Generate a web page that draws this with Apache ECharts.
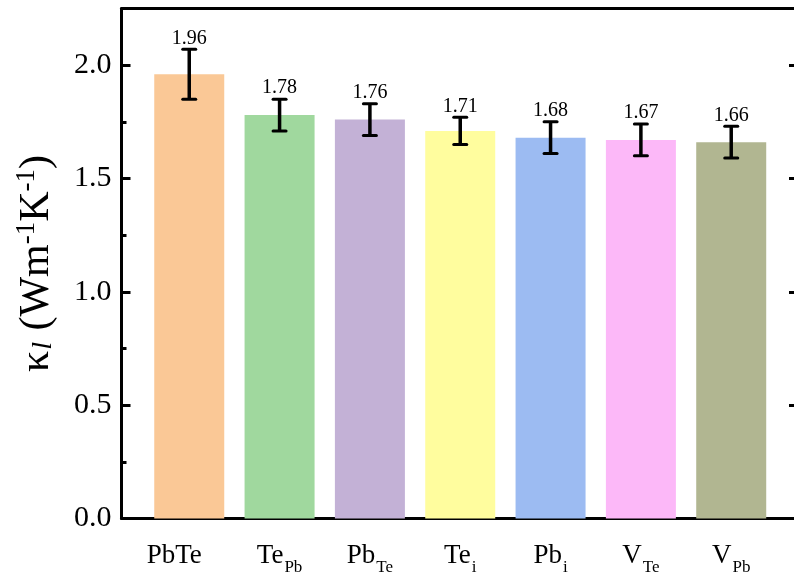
<!DOCTYPE html>
<html>
<head>
<meta charset="utf-8">
<script src="https://cdn.jsdelivr.net/npm/echarts@6/dist/echarts.min.js"></script>
<style>
html,body{margin:0;padding:0;background:#fff;}
#chart{width:794px;height:586px;}
</style>
</head>
<body>
<div id="chart"></div>
<script>
// Data
const labelMain = ['PbTe', 'Te', 'Pb', 'Te', 'Pb', 'V', 'V'];
const labelSub  = ['', 'Pb', 'Te', 'i', 'i', 'Te', 'Pb'];
const values = [1.96, 1.78, 1.76, 1.71, 1.68, 1.67, 1.66];
const errors = [0.11, 0.07, 0.07, 0.06, 0.07, 0.07, 0.07];
const barColors = ['#FAC896', '#A0D89E', '#C3B1D6', '#FFFD9E', '#9CBBF2', '#FCB8F8', '#B1B691'];
const yMajorTicks = [0, 0.5, 1.0, 1.5, 2.0];
const yMinorTicks = [0.25, 0.75, 1.25, 1.75];

const FONT = 'Liberation Serif';
const positions = labelMain.map((_, i) => i);
const X_MIN = -0.75, X_MAX = 6.695;
const GRID_LEFT = 121.5, GRID_W = 794 - GRID_LEFT;

const chart = echarts.init(document.getElementById('chart'), null, {renderer: 'canvas'});

const option = {
  backgroundColor: '#fff',
  animation: false,
  grid: {left: GRID_LEFT, right: 0, top: 8.5, bottom: 67.5, show: false},
  xAxis: [
    {
      type: 'value', position: 'bottom',
      min: X_MIN, max: X_MAX,
      axisLine: {show: true, onZero: false, lineStyle: {color: '#000', width: 3}},
      axisTick: {show: false},
      splitLine: {show: false},
      axisLabel: {
        customValues: positions,
        margin: 17,
        formatter: function (val) {
          const i = Math.round(val);
          if (!labelSub[i]) return '{m0|' + labelMain[i] + '}';
          return '{m|' + labelMain[i] + '}{s|' + labelSub[i] + '}';
        },
        rich: {
          m0: {fontFamily: FONT, fontSize: 27, color: '#000', lineHeight: 41, verticalAlign: 'middle', padding: [0, 30, 0, 0]},
          m: {fontFamily: FONT, fontSize: 27, color: '#000', lineHeight: 41, verticalAlign: 'middle'},
          s: {fontFamily: FONT, fontSize: 17, color: '#000', lineHeight: 16, padding: [23, 0, 0, 1], verticalAlign: 'middle'}
        }
      }
    },
    {
      type: 'value', position: 'top',
      min: X_MIN, max: X_MAX,
      axisLine: {show: true, onZero: false, lineStyle: {color: '#000', width: 3}},
      axisTick: {show: false},
      axisLabel: {show: false},
      splitLine: {show: false}
    }
  ],
  yAxis: [
    {
      type: 'value', position: 'left',
      min: 0, max: 2.25,
      axisLine: {show: true, onZero: false, lineStyle: {color: '#000', width: 3}},
      axisTick: {show: true, inside: true, length: 9, customValues: yMajorTicks, lineStyle: {color: '#000', width: 3}},
      axisLabel: {
        customValues: yMajorTicks,
        margin: 10,
        fontFamily: FONT, fontSize: 30, color: '#000',
        formatter: v => v.toFixed(1)
      },
      splitLine: {show: false},
      name: '{k|κ}{l|l}{k| (Wm}{p|-1}{k|K}{p|-1}{k|)}',
      nameLocation: 'middle',
      nameRotate: 90,
      nameGap: 62,
      nameTextStyle: {
        rich: {
          k: {fontFamily: FONT, fontSize: 42, color: '#000', verticalAlign: 'middle', lineHeight: 45},
          l: {fontFamily: FONT, fontSize: 28, fontStyle: 'italic', color: '#000', verticalAlign: 'middle', lineHeight: 28, padding: [14, 1, 0, 1]},
          p: {fontFamily: FONT, fontSize: 27, color: '#000', verticalAlign: 'middle', lineHeight: 27, padding: [0, 0, 20, 0]}
        }
      }
    },
    {
      type: 'value', position: 'left',
      min: 0, max: 2.25,
      axisLine: {show: false, onZero: false},
      axisTick: {show: true, inside: true, length: 5, customValues: yMinorTicks, lineStyle: {color: '#000', width: 3}},
      axisLabel: {show: false},
      splitLine: {show: false}
    },
    {
      // ticks of the right frame edge (the edge itself lies just outside the view)
      type: 'value', position: 'left', offset: -GRID_W,
      min: 0, max: 2.25,
      axisLine: {show: false, onZero: false},
      axisTick: {show: true, inside: false, length: 5, customValues: yMajorTicks, lineStyle: {color: '#000', width: 3}},
      axisLabel: {show: false},
      splitLine: {show: false}
    }
  ],
  series: [
    {
      type: 'bar',
      yAxisIndex: 0,
      barWidth: 70,
      data: values.map((v, i) => ({value: [i, v], itemStyle: {color: barColors[i]}})),
      z: 2
    },
    {
      type: 'custom',
      yAxisIndex: 0,
      z: 5,
      encode: {x: 0, y: 1},
      data: values.map((v, i) => [i, v, errors[i]]),
      renderItem: function (params, api) {
        const i = api.value(0), v = api.value(1), e = api.value(2);
        const top = api.coord([i, v + e]);
        const bot = api.coord([i, v - e]);
        const hw = 6.5;
        const ls = {stroke: '#000', lineWidth: 3.5};
        const cs = {stroke: '#000', lineWidth: 3, lineCap: 'round'};
        return {
          type: 'group',
          children: [
            {type: 'line', shape: {x1: top[0], y1: top[1], x2: bot[0], y2: bot[1]}, style: ls},
            {type: 'line', shape: {x1: top[0] - hw, y1: top[1], x2: top[0] + hw, y2: top[1]}, style: cs},
            {type: 'line', shape: {x1: bot[0] - hw, y1: bot[1], x2: bot[0] + hw, y2: bot[1]}, style: cs},
            {type: 'text', style: {
              text: v.toFixed(2), x: top[0], y: top[1] - 1,
              align: 'center', verticalAlign: 'bottom',
              fontFamily: FONT, fontSize: 20, fill: '#000'
            }}
          ]
        };
      }
    }
  ]
};

chart.setOption(option);
</script>
</body>
</html>
